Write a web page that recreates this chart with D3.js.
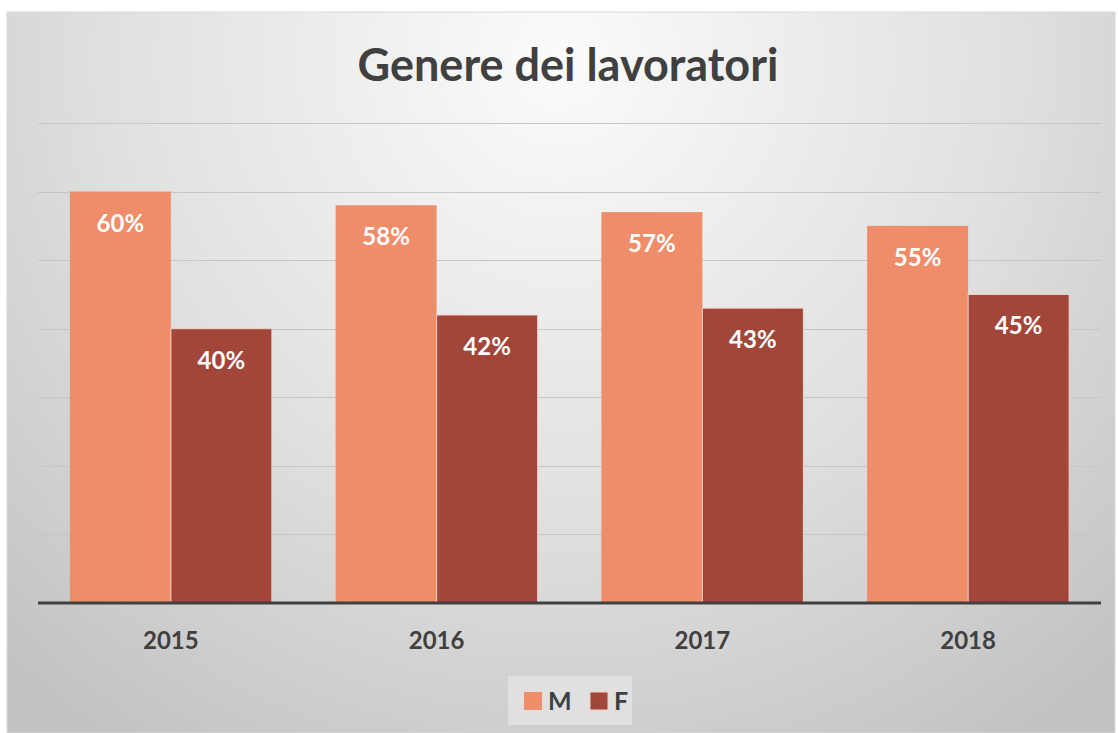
<!DOCTYPE html>
<html>
<head>
<meta charset="utf-8">
<script src="https://cdn.jsdelivr.net/npm/d3@7"></script>
<style>
  body { margin: 0; background: #ffffff; }
  svg { display: block; }
</style>
</head>
<body>
<div id="chart"></div>
<script>
// Chart data
const years = ["2015", "2016", "2017", "2018"];
const seriesNames = ["M", "F"];
const valuesM = [0.60, 0.58, 0.57, 0.55];
const valuesF = [0.40, 0.42, 0.43, 0.45];
const yTicks = [0, 0.1, 0.2, 0.3, 0.4, 0.5, 0.6, 0.7];

const colors = { M: "#ef8c69", F: "#a3463a" };
const font = "Lato, 'Open Sans', sans-serif";

const width = 1118, height = 733;
const frame = { x: 7, y: 12, w: 1108, h: 721 };
const plot = { left: 38, right: 1101, top: 123, bottom: 603 };

const svg = d3.select("#chart")
    .append("svg")
    .attr("width", width)
    .attr("height", height);

// Background gradient
const defs = svg.append("defs");
const grad = defs.append("radialGradient")
    .attr("id", "bg")
    .attr("gradientUnits", "userSpaceOnUse")
    .attr("cx", 560).attr("cy", 60).attr("r", 820);
grad.append("stop").attr("offset", "0%").attr("stop-color", "#fbfbfb");
grad.append("stop").attr("offset", "55%").attr("stop-color", "#e0e0e0");
grad.append("stop").attr("offset", "100%").attr("stop-color", "#c2c2c2");

svg.append("rect")
    .attr("x", frame.x).attr("y", frame.y)
    .attr("width", frame.w).attr("height", frame.h)
    .attr("fill", "url(#bg)")
    .attr("stroke", "#d9d9d9")
    .attr("stroke-width", 1);

// Title
svg.append("text")
    .attr("x", 568)
    .attr("y", 81)
    .attr("text-anchor", "middle")
    .attr("font-family", font)
    .attr("font-weight", "bold")
    .attr("font-size", 45)
    .attr("fill", "#404040")
    .text("Genere dei lavoratori");

// Scales
const x0 = d3.scaleBand()
    .domain(years)
    .range([plot.left, plot.right])
    .paddingInner(0.24)
    .paddingOuter(0.12);

const x1 = d3.scaleBand()
    .domain(seriesNames)
    .range([0, x0.bandwidth()]);

const y = d3.scaleLinear()
    .domain([0, 0.7])
    .range([plot.bottom, plot.top]);

// Gridlines
svg.append("g")
    .selectAll("line")
    .data(yTicks.filter(d => d > 0))
    .enter()
    .append("line")
    .attr("x1", plot.left)
    .attr("x2", plot.right)
    .attr("y1", d => Math.round(y(d)) + 0.5)
    .attr("y2", d => Math.round(y(d)) + 0.5)
    .attr("stroke", "#c6c6c6")
    .attr("stroke-width", 1);

// Bars
const rows = years.map((yr, i) => ({ year: yr, M: valuesM[i], F: valuesF[i] }));

const groups = svg.append("g")
    .selectAll("g")
    .data(rows)
    .enter()
    .append("g")
    .attr("transform", d => `translate(${x0(d.year)},0)`);

const bars = groups.selectAll("g.bar")
    .data(d => seriesNames.map(s => ({ key: s, value: d[s] })))
    .enter()
    .append("g")
    .attr("class", "bar");

bars.append("rect")
    .attr("x", d => x1(d.key))
    .attr("y", d => y(d.value))
    .attr("width", x1.bandwidth())
    .attr("height", d => y(0) - y(d.value))
    .attr("fill", d => colors[d.key])
    .attr("stroke", d => d.key === "F" ? "#efd2cb" : "none")
    .attr("stroke-width", 1);

// Data labels
bars.append("text")
    .attr("x", d => x1(d.key) + x1.bandwidth() / 2)
    .attr("y", d => y(d.value) + 40)
    .attr("text-anchor", "middle")
    .attr("font-family", font)
    .attr("font-weight", "bold")
    .attr("font-size", 24)
    .attr("fill", "#ffffff")
    .text(d => d3.format(".0%")(d.value));

// X axis
const xAxis = svg.append("g")
    .attr("transform", `translate(0,${plot.bottom})`)
    .call(d3.axisBottom(x0).tickSize(0).tickPadding(29));
xAxis.select(".domain")
    .attr("d", `M${plot.left},0H${plot.right}`)
    .attr("stroke", "#404040")
    .attr("stroke-width", 3);
xAxis.selectAll("text")
    .attr("font-family", font)
    .attr("font-weight", "bold")
    .attr("font-size", 24)
    .attr("fill", "#404040");

// Legend
const legend = svg.append("g").attr("transform", "translate(508,676)");
legend.append("rect")
    .attr("width", 124).attr("height", 49)
    .attr("fill", "#e0e0e0");
const items = legend.selectAll("g")
    .data(seriesNames)
    .enter()
    .append("g")
    .attr("transform", (d, i) => `translate(${16 + i * 66},0)`);
items.append("rect")
    .attr("x", 0).attr("y", 16)
    .attr("width", 18).attr("height", 18)
    .attr("fill", d => colors[d])
    .attr("stroke", d => d === "F" ? "#efd2cb" : "none");
items.append("text")
    .attr("x", 24).attr("y", 34)
    .attr("font-family", font)
    .attr("font-weight", "bold")
    .attr("font-size", 25)
    .attr("fill", "#404040")
    .text(d => d);
</script>
</body>
</html>
